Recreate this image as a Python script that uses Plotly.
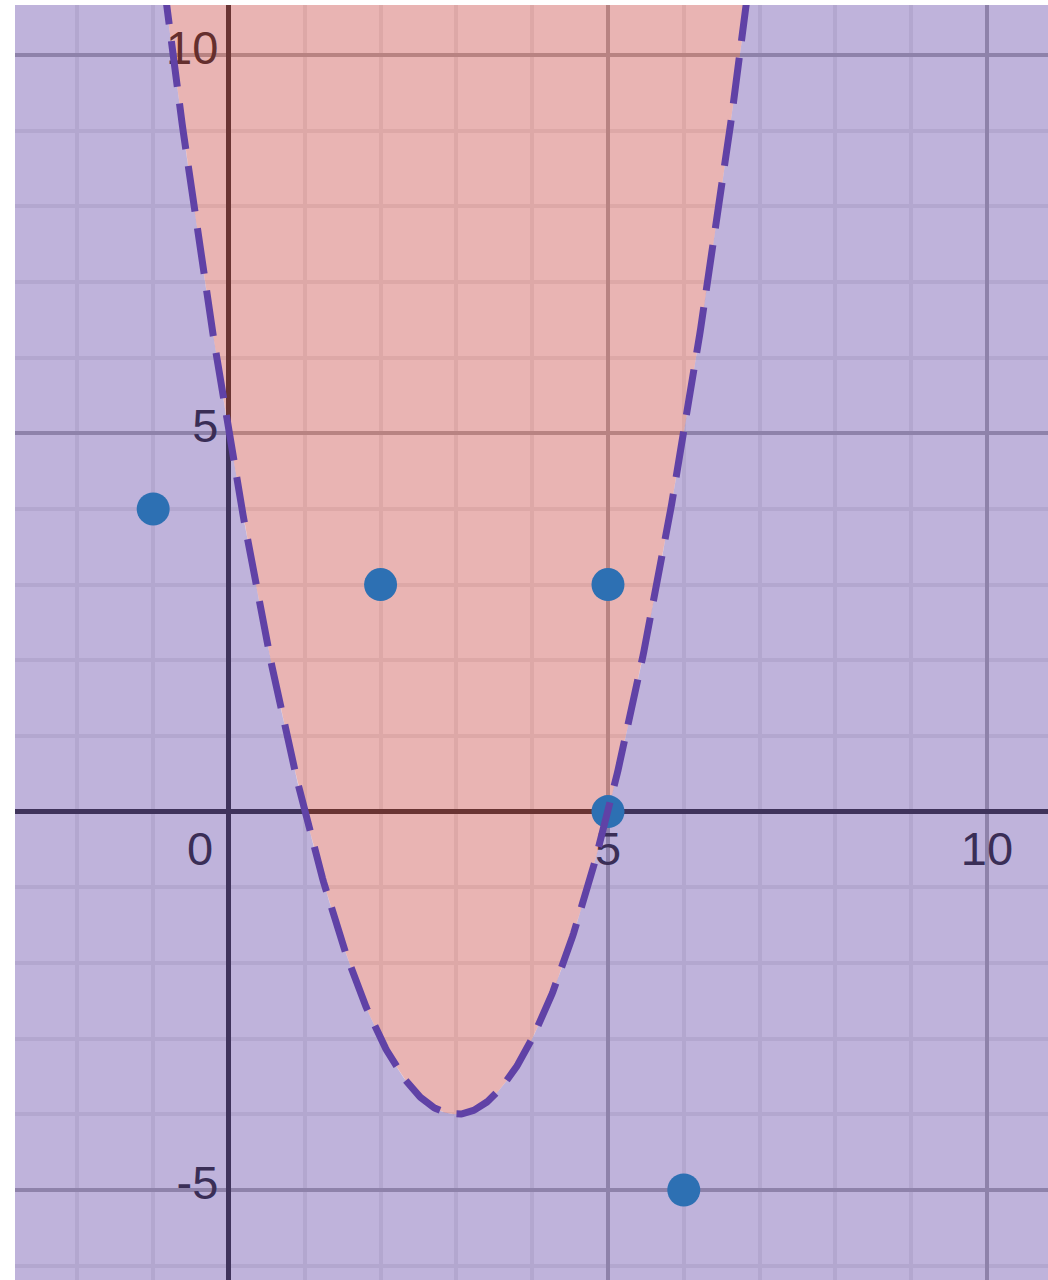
import numpy as np
import plotly.graph_objects as go

# ---- data ----
PARABOLA_COEFFS = [1, -6, 5]          # y = x^2 - 6x + 5
POINTS_X = [-1, 2, 5, 5, 6]
POINTS_Y = [4, 3, 3, 0, -5]
X_TICKS = [0, 5, 10]
Y_TICKS = [-5, 5, 10]
X_RANGE = [-2.823, 10.805]
Y_RANGE = [-6.19, 10.66]

# ---- styles ----
PURPLE = "#6042a6"
RED = "#c74440"
BLUE = "#2d70b3"
FONT = "Liberation Sans, Arial, sans-serif"

a, b, c = PARABOLA_COEFFS
def f(x):
    return a * np.asarray(x) ** 2 + b * np.asarray(x) + c

# the fill regions extend beyond the visible range (clipped by the axes)
y_top = Y_RANGE[1] + 2
x_v = -b / (2 * a)
half = np.sqrt((y_top - f(x_v)) / a)
xl, xr = x_v - half, x_v + half
xs = np.linspace(xl, xr, 600)
ys = f(xs)

ext_l, ext_r = X_RANGE[0] - 1, X_RANGE[1] + 1
ext_b = Y_RANGE[0] - 1

fig = go.Figure()

# tick labels as text (under the translucent fills, like the original)
fig.add_trace(go.Scatter(
    x=[t + (-0.38 if t == 0 else 0) for t in X_TICKS],
    y=[-0.55] * len(X_TICKS),
    text=[str(t) for t in X_TICKS],
    mode="text", textposition="middle center",
    textfont=dict(family=FONT, size=47, color="#222222"),
    hoverinfo="skip", showlegend=False))
fig.add_trace(go.Scatter(
    x=[-0.14] * len(Y_TICKS),
    y=[t + 0.04 for t in Y_TICKS],
    text=[str(t) for t in Y_TICKS],
    mode="text", textposition="middle left",
    textfont=dict(family=FONT, size=47, color="#222222"),
    hoverinfo="skip", showlegend=False))

# purple region: outside the parabola
px = [ext_l, ext_l, ext_r, ext_r] + list(xs[::-1]) + [ext_l]
py = [y_top, ext_b, ext_b, y_top] + list(ys[::-1]) + [y_top]
fig.add_trace(go.Scatter(
    x=px, y=py, mode="lines", fill="toself",
    fillcolor="rgba(96,66,166,0.4)", line=dict(width=0),
    hoverinfo="skip", showlegend=False))

# red region: inside the parabola
fig.add_trace(go.Scatter(
    x=list(xs) + [xs[0]], y=list(ys) + [ys[0]], mode="lines", fill="toself",
    fillcolor="rgba(199,68,64,0.4)", line=dict(width=0),
    hoverinfo="skip", showlegend=False))

# points
fig.add_trace(go.Scatter(
    x=POINTS_X, y=POINTS_Y, mode="markers",
    marker=dict(size=33, color=BLUE, line=dict(width=0)),
    showlegend=False))

# dashed boundary
fig.add_trace(go.Scatter(
    x=xs, y=ys, mode="lines",
    line=dict(color=PURPLE, width=7, dash="46px,17px"),
    hoverinfo="skip", showlegend=False))

axis_common = dict(
    showgrid=True, gridcolor="#adadad", gridwidth=3.5,
    zeroline=True, zerolinecolor="#2a2a2a", zerolinewidth=4.5,
    showticklabels=False, ticks="", showline=False,
    tick0=0, dtick=5,
    minor=dict(dtick=1, tick0=0, showgrid=True, gridcolor="#ececec", gridwidth=4),
    fixedrange=True,
)
fig.update_xaxes(range=X_RANGE, **axis_common)
fig.update_yaxes(range=Y_RANGE, **axis_common)

fig.update_layout(
    width=1048, height=1280,
    margin=dict(l=15, r=0, t=5, b=0),
    paper_bgcolor="white", plot_bgcolor="white",
    showlegend=False,
)

fig.write_html("out.html", config={"displayModeBar": False},
               post_script="document.body.style.margin='0';")
